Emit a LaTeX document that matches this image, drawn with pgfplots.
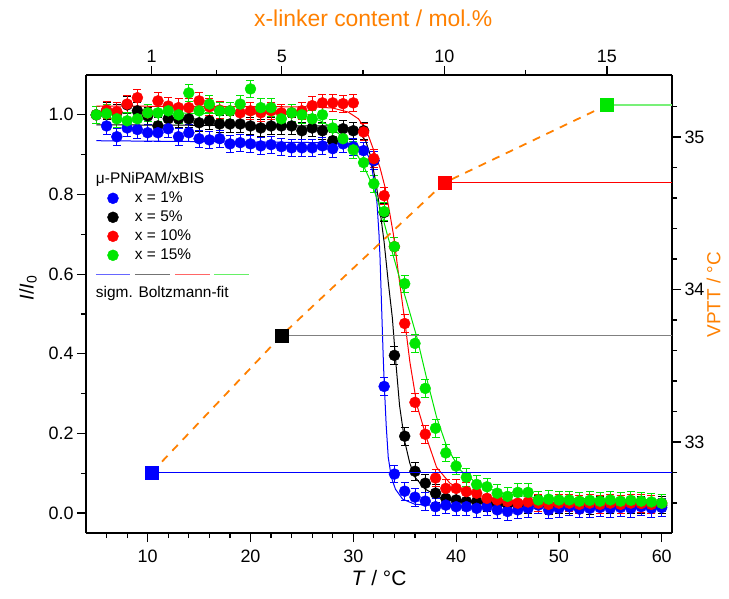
\documentclass[border=0pt]{standalone}
\usepackage{pgfplots}
\usepackage{pgfplotstable}
\pgfplotsset{compat=1.18}
\usepackage{fontspec}
\setmainfont{Liberation Sans}
\definecolor{cblue}{RGB}{0,0,255}
\definecolor{cred}{RGB}{255,0,0}
\definecolor{cgreen}{RGB}{0,230,0}
\definecolor{corange}{RGB}{255,128,0}
\definecolor{lgreen}{RGB}{120,240,120}

\pgfplotstableread{
T I
5 1.000
6 0.972
7 0.945
8 0.967
9 0.963
10 0.955
11 0.955
12 0.965
13 0.945
14 0.955
15 0.940
16 0.937
17 0.940
18 0.927
19 0.930
20 0.927
21 0.922
22 0.925
23 0.920
24 0.917
25 0.917
26 0.917
27 0.922
28 0.915
29 0.927
30 0.920
31 0.910
32 0.885
33 0.318
34 0.098
35 0.055
36 0.040
37 0.030
38 0.016
39 0.020
40 0.016
41 0.016
42 0.012
43 0.016
44 0.008
45 0.004
46 0.008
47 0.012
48 0.020
49 0.008
50 0.012
51 0.016
52 0.010
53 0.012
54 0.014
55 0.012
56 0.014
57 0.012
58 0.016
59 0.012
60 0.014
}\dataBlue

\pgfplotstableread{
T I
5 1.000
6 1.010
7 1.005
8 1.025
9 1.010
10 0.997
11 0.972
12 0.990
13 0.990
14 0.990
15 0.980
16 0.985
17 0.977
18 0.977
19 0.977
20 0.972
21 0.967
22 0.972
23 0.972
24 0.972
25 0.960
26 0.967
27 0.960
28 0.935
29 0.965
30 0.960
31 0.960
32 0.885
33 0.755
34 0.396
35 0.193
36 0.105
37 0.075
38 0.050
39 0.037
40 0.033
41 0.029
42 0.029
43 0.025
44 0.022
45 0.022
46 0.020
47 0.020
48 0.022
49 0.018
50 0.020
51 0.020
52 0.022
53 0.018
54 0.020
55 0.020
56 0.022
57 0.020
58 0.020
59 0.022
60 0.020
}\dataBlack

\pgfplotstableread{
T I
5 1.000
6 1.012
7 1.008
8 1.027
9 1.043
10 1.005
11 1.035
12 1.022
13 1.018
14 1.018
15 1.035
16 1.020
17 1.012
18 1.010
19 1.005
20 1.010
21 1.005
22 1.010
23 1.005
24 1.005
25 1.010
26 1.023
27 1.030
28 1.030
29 1.028
30 1.030
31 0.957
32 0.890
33 0.797
34 0.669
35 0.476
36 0.278
37 0.198
38 0.088
39 0.062
40 0.062
41 0.054
42 0.050
43 0.037
44 0.033
45 0.029
46 0.025
47 0.028
48 0.025
49 0.022
50 0.025
51 0.025
52 0.022
53 0.025
54 0.022
55 0.025
56 0.022
57 0.025
58 0.024
59 0.022
60 0.025
}\dataRed

\pgfplotstableread{
T I
5 1.000
6 1.003
7 0.990
8 0.985
9 0.990
10 1.005
11 1.005
12 1.010
13 1.000
14 1.055
15 1.010
16 1.027
17 1.010
18 1.010
19 1.027
20 1.065
21 1.018
22 1.018
23 0.990
24 1.005
25 1.000
26 0.990
27 1.000
28 0.967
29 0.940
30 0.912
31 0.880
32 0.827
33 0.757
34 0.669
35 0.576
36 0.426
37 0.313
38 0.213
39 0.151
40 0.118
41 0.090
42 0.072
43 0.066
44 0.050
45 0.042
46 0.052
47 0.052
48 0.033
49 0.035
50 0.033
51 0.033
52 0.030
53 0.032
54 0.030
55 0.033
56 0.030
57 0.032
58 0.030
59 0.028
60 0.025
}\dataGreen

\pgfplotsset{
  common/.style={
    width=586bp, height=458bp, scale only axis,
    axis line style={line width=1.2bp},
    every tick/.style={black, line width=1.2bp},
    major tick length=9bp, minor tick length=5bp,
    tick align=outside,
    tick label style={font=\fontsize{18}{21}\selectfont},
    label style={font=\fontsize{21}{25}\selectfont},
    /pgf/number format/assume math mode=true,
  },
  pts/.style={forget plot, only marks, mark=*, mark size=5.5bp, color=#1,
    error bars/.cd, y dir=both, y fixed=0.022,
    error mark=-,
    error bar style={line width=0.8bp, color=#1},
    error mark options={rotate=90, mark size=4bp, line width=0.8bp, color=#1}},
  fit/.style={forget plot, no marks, color=#1, line width=1bp},
}

\begin{document}
\begin{tikzpicture}
\begin{axis}[common, name=ax,
  xmin=4, xmax=61, ymin=-0.05, ymax=1.1,
  axis x line*=bottom, axis y line*=left,
  xtick={10,20,30,40,50,60}, minor xtick={6,8,12,14,16,18,22,24,26,28,32,34,36,38,42,44,46,48,52,54,56,58},
  ytick={0,0.2,0.4,0.6,0.8,1}, minor ytick={0.1,0.3,0.5,0.7,0.9},
  yticklabel style={/pgf/number format/.cd, fixed, fixed zerofill, precision=1},
  xticklabel style={yshift=-4bp},
  xlabel={\textit{T} / °C},
  ylabel={\textit{I}/\textit{I}\textsubscript{0}},
  xlabel style={at={(axis description cs:0.5,-0.098)}, anchor=center},
  ylabel style={at={(axis description cs:-0.099,0.535)}, anchor=center, font=\fontsize{20}{24}\selectfont},
  legend style={at={(0.0324,0.793)}, anchor=north west, draw=none, fill=none,
    inner sep=0pt, outer sep=0pt, row sep=0pt,
    font=\fontsize{15.5}{18}\selectfont,
    nodes={text height=11.5bp, text depth=3.5bp, inner xsep=2bp, inner ysep=2bp},
    /tikz/every odd column/.append style={column sep=12bp}},
  legend cell align=left,
]
\addlegendimage{legend image code/.code={\path[draw=none,fill=none] (0,0) -- (16bp,0);}}
\addlegendentry{\hspace*{-39bp}μ-PNiPAM/xBIS}
\addlegendimage{legend image code/.code={\path[draw=none,fill=none] (0,0) -- (16bp,0); \fill[cblue] (8bp,0) circle (5.5bp);}}
\addlegendentry{x = 1\%}
\addlegendimage{legend image code/.code={\path[draw=none,fill=none] (0,0) -- (16bp,0); \fill[black] (8bp,0) circle (5.5bp);}}
\addlegendentry{x = 5\%}
\addlegendimage{legend image code/.code={\path[draw=none,fill=none] (0,0) -- (16bp,0); \fill[cred] (8bp,0) circle (5.5bp);}}
\addlegendentry{x = 10\%}
\addlegendimage{legend image code/.code={\path[draw=none,fill=none] (0,0) -- (16bp,0); \fill[cgreen] (8bp,0) circle (5.5bp);}}
\addlegendentry{x = 15\%}
\addlegendimage{legend image code/.code={\path[draw=none,fill=none] (0,0) -- (16bp,0);
  \draw[overlay, draw=cblue!60, line width=1bp] (-9bp,0) -- (25bp,0);
  \draw[overlay, draw=black!55, line width=1bp] (30bp,0) -- (65bp,0);
  \draw[overlay, draw=cred!60, line width=1bp] (70bp,0) -- (105bp,0);
  \draw[overlay, draw=cgreen!60, line width=1bp] (109bp,0) -- (144bp,0);}}
\addlegendentry{\phantom{x}}
\addlegendimage{legend image code/.code={\path[draw=none,fill=none] (0,0) -- (16bp,0);}}
\addlegendentry{\hspace*{-39bp}sigm. Boltzmann-fit}

\addplot[pts=black] table[x=T,y=I]{\dataBlack};
\addplot[pts=cblue] table[x=T,y=I]{\dataBlue};
\addplot[pts=cred] table[x=T,y=I]{\dataRed};
\addplot[pts=cgreen] table[x=T,y=I]{\dataGreen};

\addplot[fit=cblue] coordinates {(5,0.935) (28,0.93) (30,0.925) (31,0.915) (31.5,0.895) (31.8,0.868) (32.1,0.82) (32.3,0.78) (32.5,0.70) (32.6,0.64) (32.7,0.56) (32.8,0.48) (32.9,0.40) (33.0,0.33) (33.2,0.22) (33.4,0.14) (33.7,0.09) (34.1,0.06) (34.8,0.035) (36,0.022) (40,0.017) (60,0.015)};
\addplot[fit=black] coordinates {(5,0.975) (28,0.972) (29.5,0.968) (30.5,0.958) (31.2,0.935) (31.7,0.895) (32.2,0.83) (32.6,0.76) (33.0,0.68) (33.4,0.58) (33.8,0.49) (34.1,0.39) (34.5,0.27) (35.0,0.18) (35.5,0.125) (36,0.09) (37,0.06) (38.4,0.04) (40,0.03) (45,0.024) (60,0.022)};
\addplot[fit=cred] coordinates {(5,1.022) (26,1.02) (28,1.017) (29.5,1.007) (30.5,0.99) (31.3,0.96) (31.9,0.917) (32.6,0.867) (33.1,0.817) (33.5,0.76) (33.9,0.70) (34.2,0.64) (34.5,0.58) (35.0,0.484) (35.5,0.38) (36.2,0.27) (37.2,0.183) (38.1,0.115) (39.4,0.075) (41.1,0.05) (44.3,0.033) (50,0.026) (60,0.024)};
\addplot[fit=cgreen] coordinates {(5,1.005) (22,1.003) (24.8,1.0) (26.8,0.985) (28,0.967) (29,0.942) (30,0.915) (30.9,0.877) (31.8,0.827) (32.6,0.767) (33.3,0.70) (33.9,0.645) (34.5,0.59) (35.2,0.53) (36.2,0.44) (37.1,0.342) (38.1,0.241) (39.1,0.166) (40.4,0.108) (42,0.075) (44.3,0.05) (48,0.038) (60,0.033)};
\end{axis}

\begin{axis}[common,
  xmin=-1.02, xmax=17, ymin=32.403, ymax=35.407,
  axis x line*=top, axis y line*=right,
  xtick={1,5,10,15}, minor xtick={3,7.5,12.5},
  ytick={33,34,35}, minor ytick={32.6,32.8,33.2,33.4,33.6,33.8,34.2,34.4,34.6,34.8,35.2},
  xlabel={x-linker content / mol.\%},
  ylabel={VPTT / °C},
  xlabel style={at={(axis description cs:0.49,1.1245)}, anchor=center, color=corange, font=\fontsize{23}{27}\selectfont},
  ylabel style={at={(axis description cs:1.071,0.52)}, anchor=center, color=corange, font=\fontsize{19}{23}\selectfont},
]
\addplot[cblue, line width=1bp] coordinates {(1,32.80) (17,32.80)};
\addplot[gray, line width=1.2bp] coordinates {(5,33.70) (17,33.70)};
\addplot[cred, line width=1bp] coordinates {(10,34.70) (17,34.70)};
\addplot[lgreen, line width=1.2bp] coordinates {(15,35.21) (17,35.21)};
\addplot[corange, line width=1.8bp, dash pattern=on 8bp off 7bp] coordinates {(1,32.80) (5,33.70) (10,34.70) (15,35.21)};
\addplot[only marks, mark=square*, mark size=6.5bp, cblue] coordinates {(1,32.80)};
\addplot[only marks, mark=square*, mark size=6.5bp, black] coordinates {(5,33.70)};
\addplot[only marks, mark=square*, mark size=6.5bp, cred] coordinates {(10,34.70)};
\addplot[only marks, mark=square*, mark size=6.5bp, cgreen] coordinates {(15,35.21)};
\end{axis}
\pgfresetboundingbox
\useasboundingbox ([shift={(-86bp,-66bp)}]ax.south west) rectangle ([shift={(57bp,75bp)}]ax.north east);
\end{tikzpicture}
\end{document}
